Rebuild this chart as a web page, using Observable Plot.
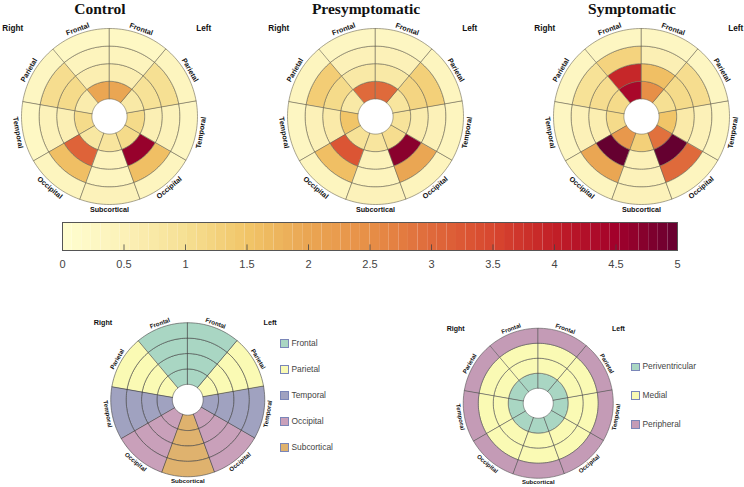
<!DOCTYPE html>
<html>
<head>
<meta charset="utf-8">
<script src="https://cdn.jsdelivr.net/npm/d3@7"></script>
<script src="https://cdn.jsdelivr.net/npm/@observablehq/plot@0.6"></script>
<style>
  html, body { margin: 0; padding: 0; background: #fff; }
  body { width: 744px; height: 487px; position: relative; overflow: hidden; font-family: "Liberation Sans", Arial, sans-serif; }
  .abs { position: absolute; }
  .title { font-family: "Liberation Serif", "Times New Roman", serif; font-weight: bold; font-size: 15.5px; line-height: 16px; text-align: center; width: 200px; color: #111; }
  .leg { font-size: 8.4px; color: #444; line-height: 10px; white-space: nowrap; }
  .sw { display: inline-block; width: 6.5px; height: 6.5px; border: 0.8px solid #7a86b8; vertical-align: middle; margin-right: 3px; }
  svg { overflow: visible; }
</style>
</head>
<body>
<script>
// ---------- data ----------
// sectors clockwise from the top (each spans 40 degrees)
const sectorNames = ["Frontal", "Frontal", "Parietal", "Temporal", "Occipital", "Subcortical", "Occipital", "Temporal", "Parietal"];
const sectorSides = ["Right", "Left", "Left", "Left", "Left", "Midline", "Right", "Right", "Right"];
// rings from the centre outwards
const ringNames = ["Periventricular", "Medial", "Medial", "Peripheral"];
const groupNames = ["Control", "Presymptomatic", "Symptomatic"];

// values per sector (order above), ring 1 (inner) -> ring 4 (outer)
const controlValues = [
  [2.0, 0.6, 0.4, 0.25],
  [2.0, 0.6, 0.4, 0.25],
  [0.75, 0.95, 1.0, 0.35],
  [1.1, 0.55, 0.45, 0.3],
  [1.1, 4.6, 1.6, 0.35],
  [0.85, 0.4, 0.35, 0.45],
  [0.8, 3.1, 1.6, 0.35],
  [1.1, 0.55, 0.45, 0.25],
  [0.65, 1.1, 1.05, 0.3]
];
const presymptomaticValues = [
  [3.0, 0.75, 0.5, 0.3],
  [3.0, 0.75, 0.5, 0.3],
  [0.85, 1.2, 1.3, 0.35],
  [0.9, 0.65, 0.5, 0.35],
  [1.05, 4.7, 2.0, 0.4],
  [0.85, 0.45, 0.4, 0.45],
  [0.95, 3.3, 1.6, 0.35],
  [1.5, 0.7, 0.5, 0.3],
  [0.75, 1.1, 1.35, 0.35]
];
const symptomaticValues = [
  [4.4, 3.9, 1.25, 0.3],
  [2.5, 1.6, 0.55, 0.3],
  [1.0, 1.1, 1.05, 0.3],
  [1.5, 0.7, 0.5, 0.3],
  [2.9, 5.0, 3.0, 0.35],
  [1.3, 0.5, 0.45, 0.45],
  [2.3, 5.0, 2.0, 0.35],
  [1.1, 0.6, 0.5, 0.3],
  [1.1, 1.05, 0.95, 0.3]
];

const colorTicks = [0, 0.5, 1, 1.5, 2, 2.5, 3, 3.5, 4, 4.5, 5];
const colorStops = ["#fffed0", "#fcf1b8", "#f6e093", "#f1c568", "#eaa653", "#e78f47", "#df6a3b", "#d8472f", "#c21f27", "#a3012b", "#650030"];

const lobeNames = ["Frontal", "Parietal", "Temporal", "Occipital", "Subcortical"];
const lobeColors = ["#a9d6c3", "#fafab4", "#a0a2c0", "#c9a0ba", "#dfb26e"];
const layerNames = ["Periventricular", "Medial", "Peripheral"];
const layerColors = ["#a9d6c3", "#fafab4", "#c49bb6"];

// ---------- geometry helpers (polar grid: hole radius 1, outer radius 5) ----------
const SECTOR = 40, START = -40, HOLE = 1, LABEL_R = 5.28;
function arcPolygon(a0, a1, r0, r1) {
  const n = 20, pts = [];
  for (let k = 0; k <= n; k++) {
    const a = (a0 + (a1 - a0) * k / n) * Math.PI / 180;
    pts.push([r1 * Math.sin(a), -r1 * Math.cos(a)]);
  }
  for (let k = n; k >= 0; k--) {
    const a = (a0 + (a1 - a0) * k / n) * Math.PI / 180;
    pts.push([r0 * Math.sin(a), -r0 * Math.cos(a)]);
  }
  pts.push(pts[0]);
  return pts;
}
function cells(valueOf) {
  const out = [];
  sectorNames.forEach((name, s) => {
    ringNames.forEach((ring, r) => {
      const a0 = START + SECTOR * s;
      out.push({
        type: "Feature",
        properties: {sector: name, side: sectorSides[s], ring, value: valueOf(s, r)},
        geometry: {type: "Polygon", coordinates: [arcPolygon(a0, a0 + SECTOR, HOLE + r, HOLE + r + 1)]}
      });
    });
  });
  return out;
}
function sectorLabels() {
  return sectorNames.map((name, s) => {
    const mid = START + SECTOR * s + SECTOR / 2;
    const norm = ((mid % 360) + 360) % 360;
    const rot = (norm > 90 && norm < 270) ? norm - 180 : (norm > 180 ? norm - 360 : norm);
    const a = mid * Math.PI / 180;
    return {text: name, x: LABEL_R * Math.sin(a), y: -LABEL_R * Math.cos(a), rotate: rot};
  });
}
const sideLabels = [{text: "Right", x: -5.5, y: -5.0}, {text: "Left", x: 5.35, y: -5.0}];
const frameDomain = {type: "MultiPoint", coordinates: [[-6.25, -6.25], [6.25, 6.25]]};

function polarPlot({features, fill, color, size, stroke, sectorFont, sideFont}) {
  return Plot.plot({
    width: size, height: size, margin: 0,
    projection: {type: "identity", domain: frameDomain},
    color,
    style: {fontFamily: "'Liberation Sans', Arial, sans-serif", background: "transparent", overflow: "visible"},
    marks: [
      Plot.geo(features, {fill, stroke, strokeWidth: 0.6}),
      Plot.text(sectorLabels(), {x: "x", y: "y", text: "text", rotate: "rotate", fontSize: sectorFont, fontWeight: "bold", fill: "#111"}),
      Plot.text(sideLabels, {x: "x", y: "y", text: "text", fontSize: sideFont, fontWeight: "bold", fill: "#111"})
    ]
  });
}

function place(node, left, top) {
  node.classList.add("abs");
  node.style.left = left + "px";
  node.style.top = top + "px";
  document.body.appendChild(node);
}

const heatColor = {type: "linear", domain: colorTicks, range: colorStops, clamp: true};
const groupValues = [controlValues, presymptomaticValues, symptomaticValues];
const centersX = [109, 375, 641];
const titleX = [100, 366, 632];

groupNames.forEach((g, i) => {
  const vals = groupValues[i];
  const p = polarPlot({
    features: cells((s, r) => vals[s][r]),
    fill: d => d.properties.value,
    color: heatColor,
    size: 220, stroke: "#6f6a55", sectorFont: 7.2, sideFont: 8.2
  });
  place(p, centersX[i] - 110, 116 - 110);
  const t = document.createElement("div");
  t.className = "title";
  t.textContent = g;
  place(t, titleX[i] - 100, 1);
});

// ---------- colour bar ----------
const nBins = 64;
const bins = d3.range(nBins).map(k => ({x1: 5 * k / nBins, x2: 5 * (k + 1) / nBins, v: 5 * (k + 0.5) / nBins}));
const innerTicks = colorTicks.filter(t => t > 0 && t < 5);
const bar = Plot.plot({
  width: 744, height: 62, marginLeft: 62, marginRight: 67, marginTop: 10, marginBottom: 24,
  x: {domain: [0, 5]},
  y: {domain: [0, 1], axis: null},
  color: heatColor,
  style: {fontFamily: "'Liberation Sans', Arial, sans-serif", color: "#444", background: "transparent", overflow: "visible"},
  marks: [
    Plot.rect(bins, {x1: "x1", x2: "x2", y1: 0, y2: 1, fill: "v"}),
    Plot.ruleX(innerTicks, {x: d => d, y1: 0, y2: 0.2, stroke: "#444", strokeWidth: 0.8}),
    Plot.frame({stroke: "#555", strokeWidth: 1}),
    Plot.axisX({ticks: colorTicks, tickFormat: d => String(d), tickSize: 0, tickPadding: 10, fontSize: 11, fill: "#444"})
  ]
});
place(bar, 0, 212);

// ---------- lobe layout diagram ----------
const lobeDiagram = polarPlot({
  features: cells((s, r) => sectorNames[s]),
  fill: d => d.properties.value,
  color: {domain: lobeNames, range: lobeColors},
  size: 192.5, stroke: "#444", sectorFont: 6.2, sideFont: 7.2
});
place(lobeDiagram, 187 - 96.25, 399 - 96.25);

// ---------- layer layout diagram ----------
const layerDiagram = polarPlot({
  features: cells((s, r) => ringNames[r]),
  fill: d => d.properties.value,
  color: {domain: layerNames, range: layerColors},
  size: 187.5, stroke: "#555", sectorFont: 6.0, sideFont: 7.0
});
place(layerDiagram, 538 - 93.75, 403 - 93.75);

// ---------- legends ----------
function legend(names, colors, left, top0, step) {
  names.forEach((n, i) => {
    const row = document.createElement("div");
    row.className = "leg";
    const sw = document.createElement("span");
    sw.className = "sw";
    sw.style.background = colors[i];
    row.appendChild(sw);
    row.appendChild(document.createTextNode(n));
    place(row, left, top0 + i * step - 5);
  });
}
legend(lobeNames, lobeColors, 280, 342.6, 26);
legend(layerNames, layerColors, 631, 366.3, 28.6);
</script>
</body>
</html>
